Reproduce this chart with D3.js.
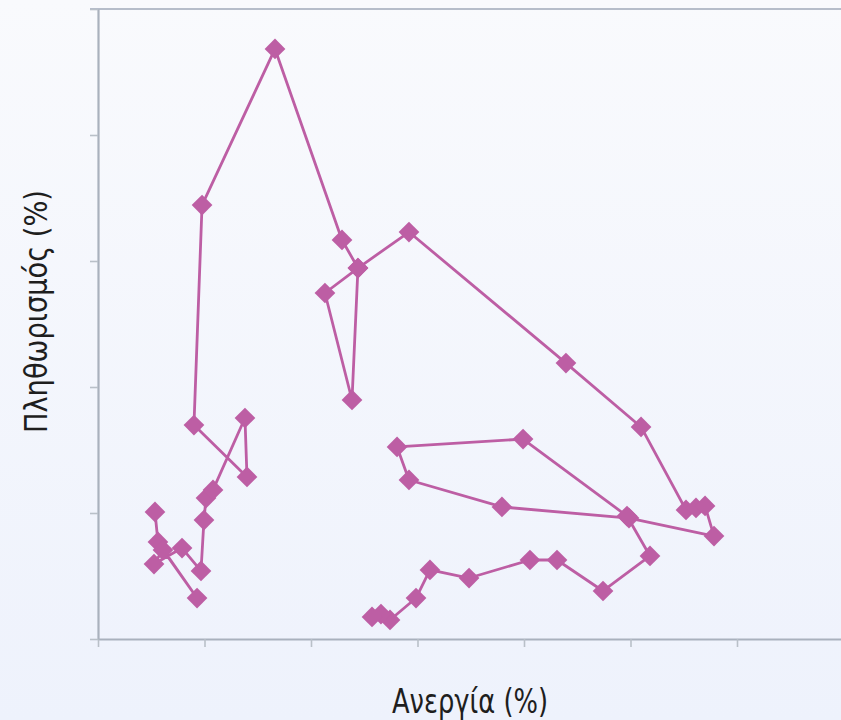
<!DOCTYPE html>
<html>
<head>
<meta charset="utf-8">
<script src="https://cdn.jsdelivr.net/npm/d3@7"></script>
<style>
  html, body { margin: 0; padding: 0; background: #f4f6fc; }
  svg { display: block; }
</style>
</head>
<body>
<svg id="chart" width="841" height="720"></svg>
<script>
// Unemployment (x, axis units) in path order
const unemployment = [
  0.535, 0.563, 0.930, 0.610, 0.526, 0.789, 0.967, 0.995, 1.014, 1.080,
  1.380, 1.399, 0.901, 0.977, 1.662, 2.291, 2.441, 2.131, 2.385, 2.441,
  2.920, 4.394, 5.099, 5.521, 5.615, 5.700, 5.784, 4.986, 3.793, 2.920,
  2.808, 3.991, 4.967, 5.183, 4.742, 4.310, 4.056, 3.484, 3.117, 2.986,
  2.742, 2.657, 2.573
];
// Inflation (y, axis units) in path order
const inflation = [
  1.008, 0.770, 0.325, 0.706, 0.595, 0.722, 0.540, 0.944, 1.119, 1.183,
  1.754, 1.286, 1.698, 3.444, 4.683, 3.167, 2.944, 2.746, 1.897, 2.944,
  3.230, 2.190, 1.683, 1.024, 1.040, 1.056, 0.817, 0.960, 1.048, 1.262,
  1.524, 1.587, 0.976, 0.659, 0.381, 0.627, 0.627, 0.484, 0.548, 0.325,
  0.151, 0.198, 0.175
];
const xTicks = [0, 1, 2, 3, 4, 5, 6, 7];
const yTicks = [0, 1, 2, 3, 4, 5];
const xTitle = "Ανεργία (%)";
const yTitle = "Πληθωρισμός (%)";

const data = unemployment.map((u, i) => ({ x: u, y: inflation[i] }));

const svg = d3.select("#chart");
const W = 841, H = 720;
const margin = { left: 98, top: 9, right: -2.5, bottom: 81 };

const defs = svg.append("defs");
const grad = defs.append("linearGradient").attr("id", "bg")
  .attr("x1", 0).attr("y1", 0).attr("x2", 0).attr("y2", 1);
grad.append("stop").attr("offset", "0%").attr("stop-color", "#f9fafd");
grad.append("stop").attr("offset", "100%").attr("stop-color", "#eef2fc");
svg.append("rect").attr("width", W).attr("height", H).attr("fill", "url(#bg)");

const x = d3.scaleLinear().domain([0, 7]).range([margin.left, W - margin.right]);
const y = d3.scaleLinear().domain([0, 5]).range([H - margin.bottom, margin.top]);

const axisColor = "#a9b1bd";
const tickColor = "#b9c0c8";

// top border line
svg.append("line")
  .attr("x1", x(0) - 8).attr("x2", W)
  .attr("y1", y(5)).attr("y2", y(5))
  .attr("stroke", "#b6bdca").attr("stroke-width", 2);

const xAxis = svg.append("g")
  .attr("transform", `translate(0,${y(0)})`)
  .call(d3.axisBottom(x).tickValues(xTicks).tickSize(8).tickSizeOuter(0).tickFormat(""));
const yAxis = svg.append("g")
  .attr("transform", `translate(${x(0)},0)`)
  .call(d3.axisLeft(y).tickValues(yTicks).tickSize(8).tickSizeOuter(0).tickFormat(""));

[xAxis, yAxis].forEach(g => {
  g.select(".domain").attr("stroke", axisColor).attr("stroke-width", 2.2);
  g.selectAll(".tick line").attr("stroke", tickColor).attr("stroke-width", 1.6);
});

const color = "#bd5ea4";

svg.append("path")
  .datum(data)
  .attr("fill", "none")
  .attr("stroke", color)
  .attr("stroke-width", 2.8)
  .attr("stroke-linejoin", "round")
  .attr("d", d3.line().x(d => x(d.x)).y(d => y(d.y)));

const sym = d3.symbol().type(d3.symbolSquare).size(215);
svg.append("g").selectAll("path")
  .data(data)
  .join("path")
  .attr("d", sym)
  .attr("fill", color)
  .attr("transform", d => `translate(${x(d.x)},${y(d.y)}) rotate(45)`);

const fontFam = "'Liberation Sans Narrow', 'DejaVu Sans Condensed', 'Liberation Sans', sans-serif";
svg.append("text")
  .attr("x", 470).attr("y", 713)
  .attr("text-anchor", "middle")
  .attr("font-family", fontFam)
  .attr("font-size", 34)
  .attr("textLength", 156)
  .attr("lengthAdjust", "spacingAndGlyphs")
  .attr("fill", "#1e1e1e")
  .text(xTitle);

svg.append("text")
  .attr("transform", `translate(47,${311.5}) rotate(-90)`)
  .attr("text-anchor", "middle")
  .attr("font-family", fontFam)
  .attr("font-size", 32)
  .attr("textLength", 243)
  .attr("lengthAdjust", "spacingAndGlyphs")
  .attr("fill", "#1e1e1e")
  .text(yTitle);
</script>
</body>
</html>
